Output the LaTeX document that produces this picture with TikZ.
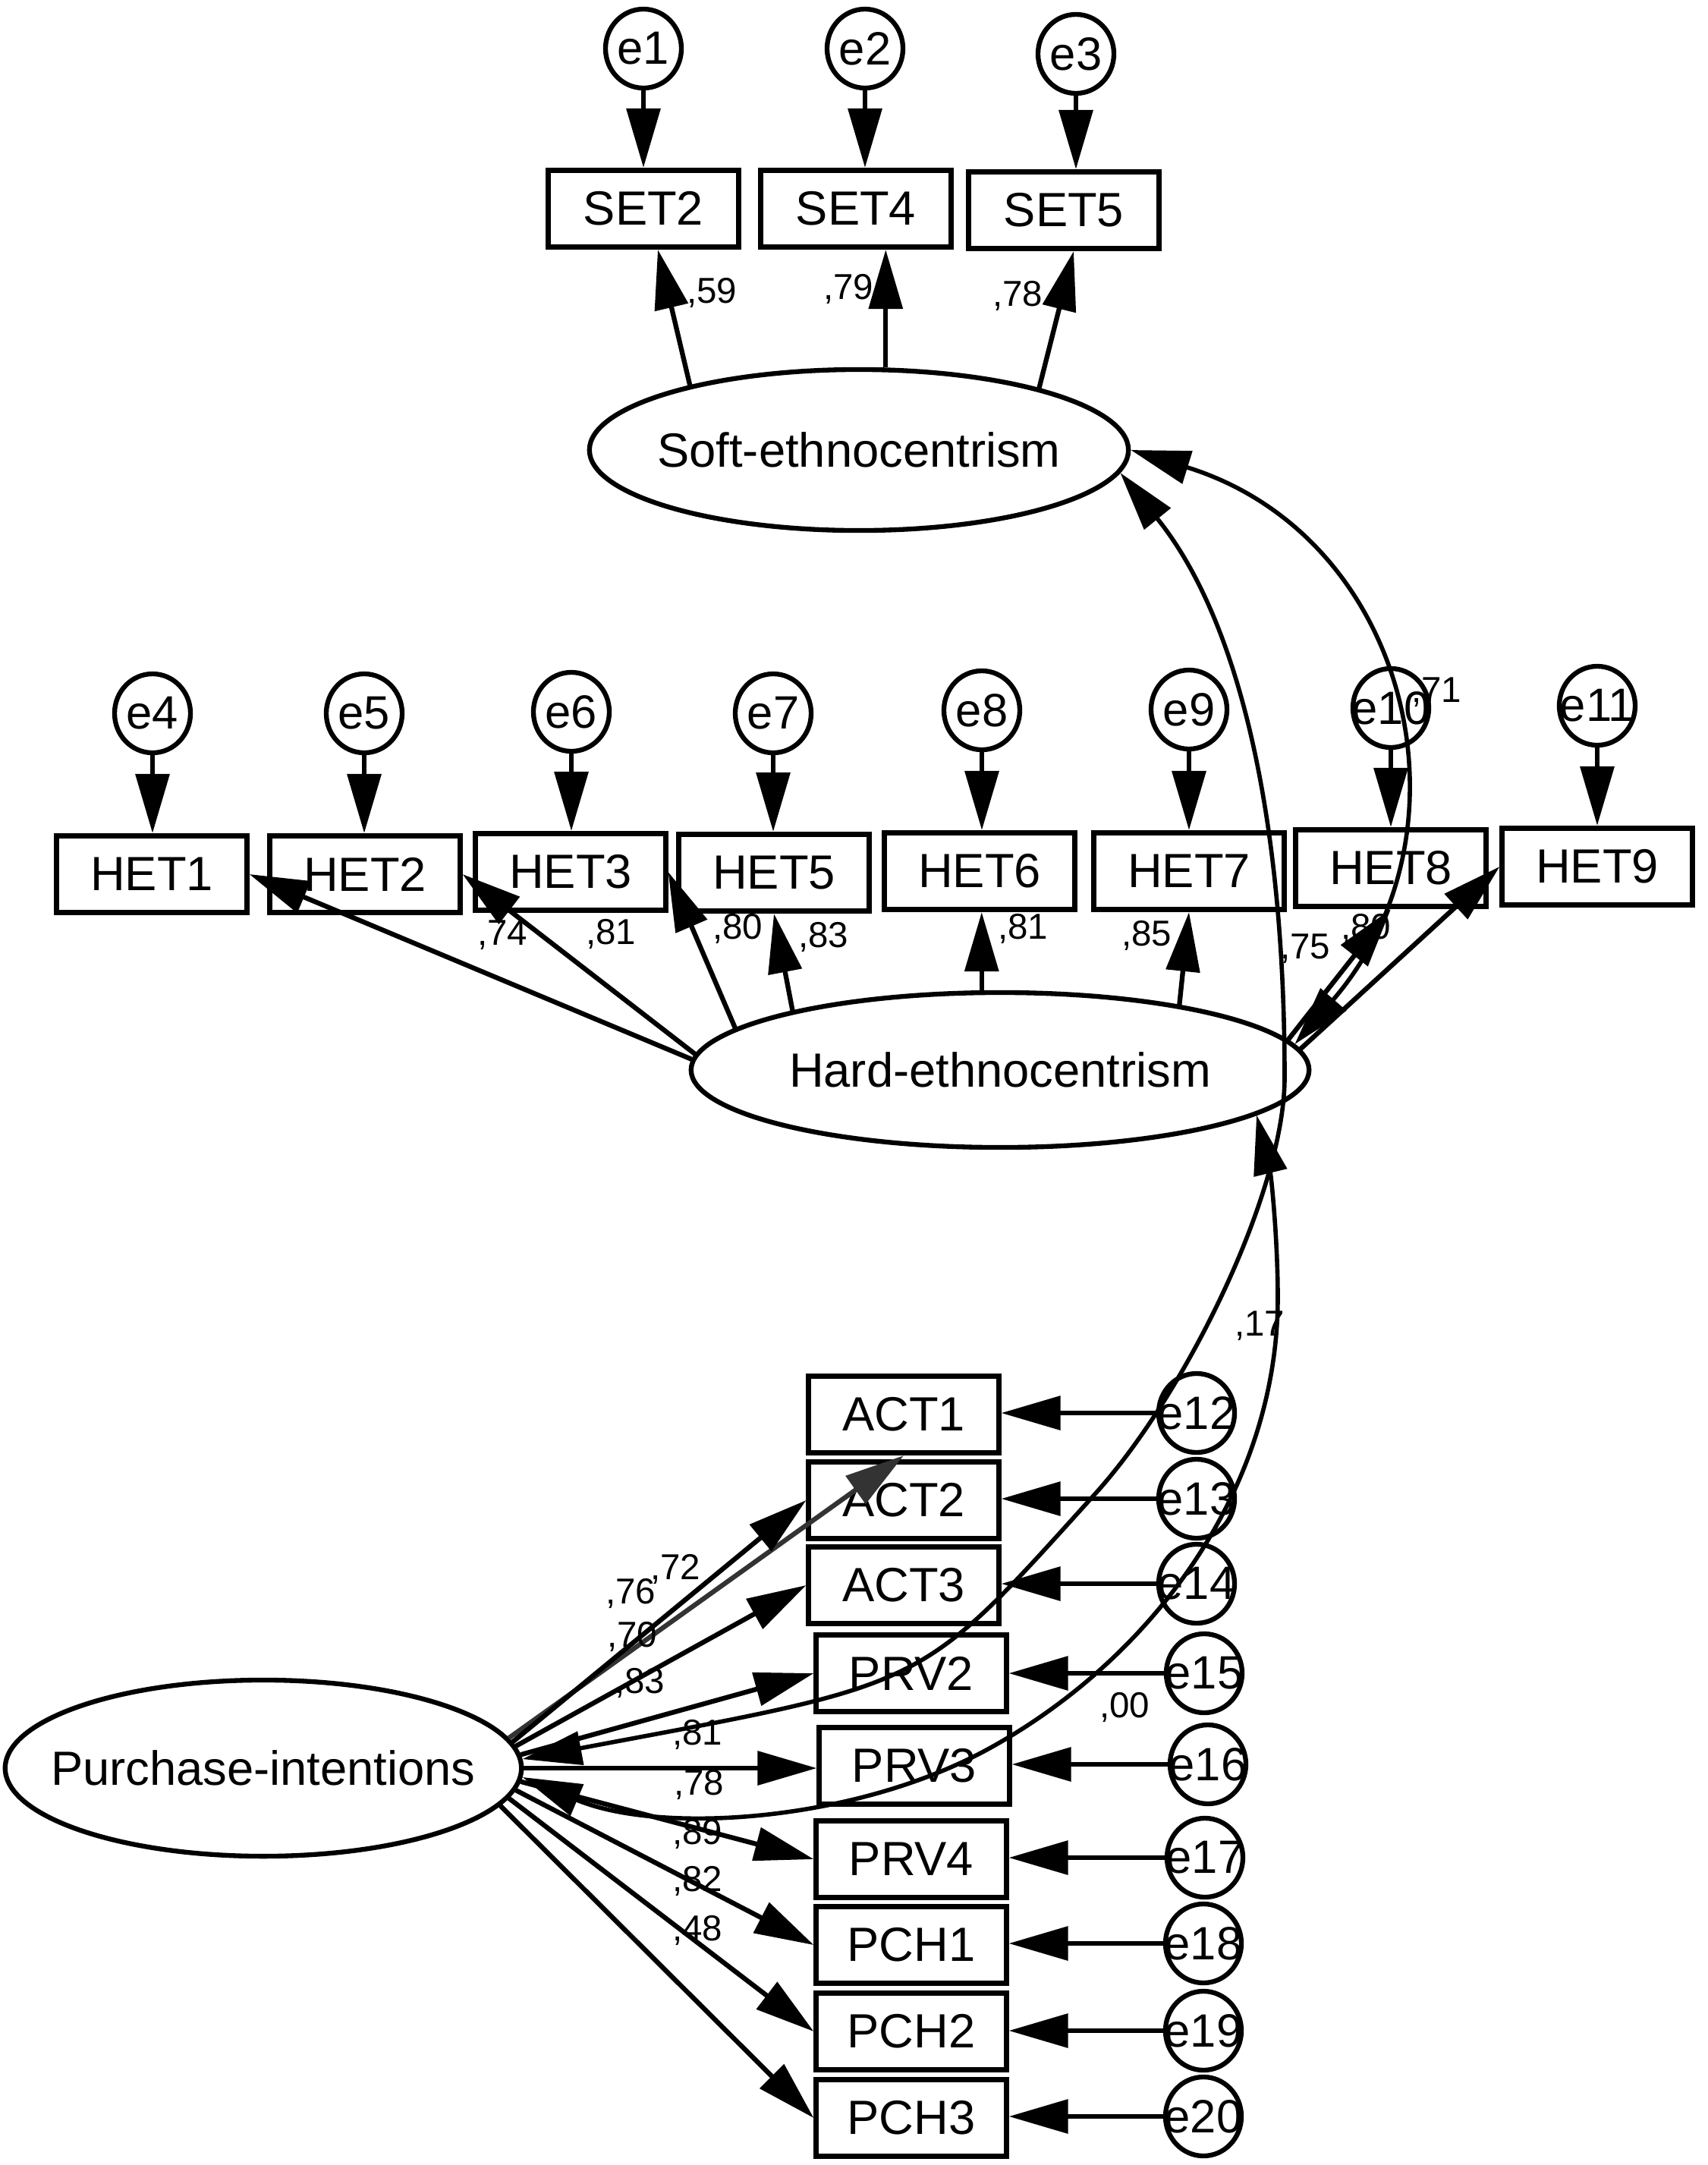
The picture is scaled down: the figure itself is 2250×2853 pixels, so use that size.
\documentclass[tikz,border=0pt]{standalone}
\usepackage{fontspec}
\setmainfont{Liberation Sans}
\usetikzlibrary{arrows.meta,shapes.geometric,calc}
\begin{document}
\begin{tikzpicture}[x=0.01cm,y=-0.01cm,
  obs/.style={draw, line width=2pt, minimum width=2.5cm, minimum height=1.01cm, inner sep=0pt, font=\fontsize{18}{18}\selectfont},
  err/.style={draw, ellipse, line width=1.8pt, minimum width=1.0cm, minimum height=1.04cm, inner sep=0pt, font=\fontsize{17.5}{17.5}\selectfont},
  lat/.style={draw, ellipse, line width=1.8pt, inner sep=0pt, font=\fontsize{18}{18}\selectfont},
  lbl/.style={font=\fontsize{13.5}{13.5}\selectfont, inner sep=0pt},
  arr/.style={line width=1.8pt, -{Triangle[length=7.8mm,width=4.4mm]}},
  cov/.style={line width=1.6pt, {Triangle[length=7.8mm,width=4.4mm]}-{Triangle[length=7.8mm,width=4.4mm]}}]
\useasboundingbox (0,0) rectangle (2250,2853);

% latent variables
\node[lat, minimum width=7.10cm, minimum height=2.12cm] (S) at (1132,593) {\makebox[0pt]{Soft-ethnocentrism}};
\node[lat, minimum width=8.14cm, minimum height=2.04cm] (H) at (1318,1410) {\makebox[0pt]{Hard-ethnocentrism}};
\node[lat, minimum width=6.80cm, minimum height=2.32cm] (P) at (347,2330) {\makebox[0pt]{Purchase-intentions}};

% soft indicators
\node[obs] (SET2) at (848,275) {SET2};
\node[obs] (SET4) at (1128,275) {SET4};
\node[obs] (SET5) at (1402,277) {SET5};
\node[err] (e1) at (848,64) {\makebox[0pt]{e1}};
\node[err] (e2) at (1140,64) {\makebox[0pt]{e2}};
\node[err] (e3) at (1418,71) {\makebox[0pt]{e3}};

% hard indicators
\node[obs] (HET1) at (200,1152) {HET1};
\node[obs] (HET2) at (481,1152) {HET2};
\node[obs] (HET3) at (752,1149) {HET3};
\node[obs] (HET5) at (1020,1150) {HET5};
\node[obs] (HET6) at (1291,1148) {HET6};
\node[obs] (HET7) at (1567,1148) {HET7};
\node[obs] (HET8) at (1833,1144) {HET8};
\node[obs] (HET9) at (2105,1142) {HET9};
\node[err] (e4) at (201,940) {\makebox[0pt]{e4}};
\node[err] (e5) at (480,940) {\makebox[0pt]{e5}};
\node[err] (e6) at (753,938) {\makebox[0pt]{e6}};
\node[err] (e7) at (1019,940) {\makebox[0pt]{e7}};
\node[err] (e8) at (1294,936) {\makebox[0pt]{e8}};
\node[err] (e9) at (1567,935) {\makebox[0pt]{e9}};
\node[err] (e10) at (1833,933) {\makebox[0pt]{e10}};
\node[err] (e11) at (2105,930) {\makebox[0pt]{e11}};

% purchase indicators
\node[obs] (ACT1) at (1191,1864) {ACT1};
\node[obs] (ACT2) at (1191,1977) {ACT2};
\node[obs] (ACT3) at (1191,2089) {ACT3};
\node[obs] (PRV2) at (1201,2205) {PRV2};
\node[obs] (PRV3) at (1205,2327) {PRV3};
\node[obs] (PRV4) at (1201,2450) {PRV4};
\node[obs] (PCH1) at (1201,2563) {PCH1};
\node[obs] (PCH2) at (1201,2677) {PCH2};
\node[obs] (PCH3) at (1201,2791) {PCH3};
\node[err] (e12) at (1577,1862) {\makebox[0pt]{e12}};
\node[err] (e13) at (1577,1975) {\makebox[0pt]{e13}};
\node[err] (e14) at (1577,2087) {\makebox[0pt]{e14}};
\node[err] (e15) at (1587,2205) {\makebox[0pt]{e15}};
\node[err] (e16) at (1592,2325) {\makebox[0pt]{e16}};
\node[err] (e17) at (1588,2448) {\makebox[0pt]{e17}};
\node[err] (e18) at (1586,2561) {\makebox[0pt]{e18}};
\node[err] (e19) at (1586,2676) {\makebox[0pt]{e19}};
\node[err] (e20) at (1586,2789) {\makebox[0pt]{e20}};

% error arrows
\foreach \e/\b in {e1/SET2,e2/SET4,e3/SET5,e4/HET1,e5/HET2,e6/HET3,e7/HET5,e8/HET6,e9/HET7,e10/HET8,e11/HET9}
  \draw[arr] (\e.south) -- (\e.south |- \b.north);
\foreach \e/\b in {e12/ACT1,e13/ACT2,e14/ACT3,e15/PRV2,e16/PRV3,e17/PRV4,e18/PCH1,e19/PCH2,e20/PCH3}
  \draw[arr] (\e.west) -- (\e.west -| \b.east);

% soft loadings
\draw[arr] (S.159) -- ($(SET2.south)+(19,0)$);
\draw[arr] (S.72) -- (S.72 |- SET4.south);
\draw[arr] (S.19) -- ($(SET5.south)+(13,0)$);

% hard loadings
\draw[arr] (H.178) -- (HET1.east);
\draw[arr] (H.177) -- (HET2.east);
\draw[arr] (H.171) -- (HET3.east);
\draw[arr] (H.164) -- (HET5.south);
\draw[arr] (H.103) -- (H.103 |- HET6.south);
\draw[arr] (H.20) -- (HET7.south);
\draw[arr] (H.6) -- (HET8.south);
\draw[arr] (H.4) -- (HET9.west);

% purchase loadings
\draw[arr, black!80] (P.7) -- (ACT1.south);
\draw[arr] (P.6) -- (ACT2.west);
\draw[arr] (P.5) -- (ACT3.west);
\draw[arr] (P.3) -- (PRV2.west);
\draw[arr] (P.0) -- (P.0 -| PRV3.west);
\draw[arr] (P.-3) -- (PRV4.west);
\draw[arr] (P.-5) -- (PCH1.west);
\draw[arr] (P.-7) -- (PCH2.west);
\draw[arr] (P.-9) -- (PCH3.west);

% covariances
\draw[cov] (S.0) .. controls (1857,706) and (1950,1094) .. (H.5);
\draw[cov] (S.-5) .. controls (1631,814) and (1693,1070) .. (1693,1420)
  .. controls (1693,1570) and (1563,1837) .. (1442,1970)
  .. controls (1208,2229) and (1227,2217) .. (P.2);
\draw[cov] (H.-10) .. controls (1675,1548) and (1684,1630) .. (1684,1710)
  .. controls (1684,1960) and (1521,2185) .. (1302,2305)
  .. controls (1126,2401) and (870,2418) .. (P.-2);

% labels
\node[lbl] (l59) at (938,386) {,59};
\node[lbl] (l79) at (1118,381) {,79};
\node[lbl] (l78a) at (1341,390) {,78};
\node[lbl] (l74) at (662,1232) {,74};
\node[lbl] (l81a) at (805,1231) {,81};
\node[lbl] (l80a) at (972,1224) {,80};
\node[lbl] (l83a) at (1085,1235) {,83};
\node[lbl] (l81b) at (1348,1224) {,81};
\node[lbl] (l85) at (1511,1233) {,85};
\node[lbl] (l75) at (1720,1250) {,75};
\node[lbl] (l80b) at (1800,1224) {,80};
\node[lbl] (l71) at (1893,912) {,71};
\node[lbl] (l17) at (1660,1747) {,17};
\node[lbl] (l00) at (1482,2250) {,00};
\node[lbl] (l72) at (890,2068) {,72};
\node[lbl] (l76) at (831,2100) {,76};
\node[lbl] (l70) at (833,2157) {,70};
\node[lbl] (l83b) at (843,2218) {,83};
\node[lbl] (l81c) at (919,2286) {,81};
\node[lbl] (l78b) at (921,2352) {,78};
\node[lbl] (l89) at (919,2417) {,89};
\node[lbl] (l82) at (919,2479) {,82};
\node[lbl] (l48) at (919,2544) {,48};
\end{tikzpicture}
\end{document}
